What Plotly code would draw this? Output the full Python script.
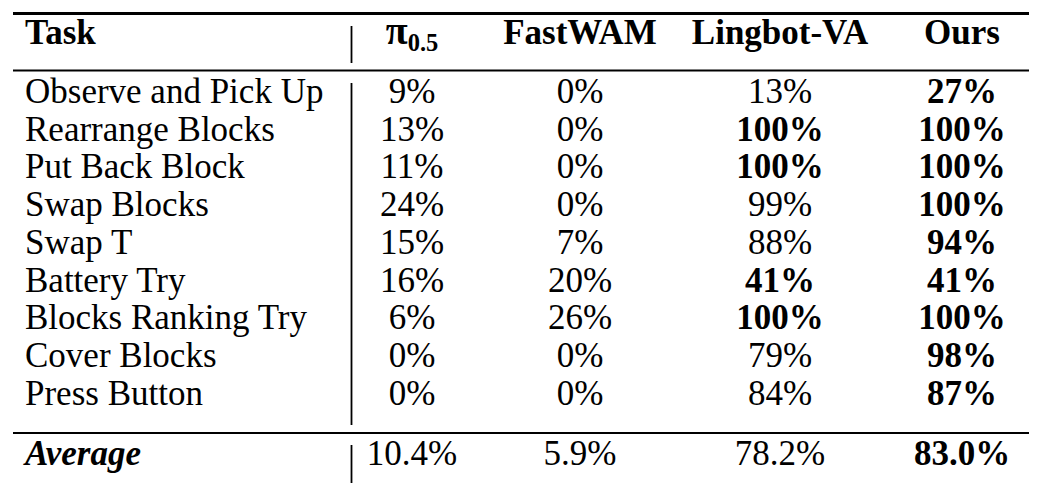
import plotly.graph_objects as go

# ---------------- data ----------------
tasks = ["Observe and Pick Up", "Rearrange Blocks", "Put Back Block", "Swap Blocks",
         "Swap T", "Battery Try", "Blocks Ranking Try", "Cover Blocks", "Press Button"]
method_headers = ["<b><span style='font-size:40px'>π</span><sub>0.5</sub></b>",
                  "<b>FastWAM</b>", "<b>Lingbot-VA</b>", "<b>Ours</b>"]
task_header = "Task"
avg_label = "Average"

pi05 = [9, 13, 11, 24, 15, 16, 6, 0, 0]
fastwam = [0, 0, 0, 0, 7, 20, 26, 0, 0]
lingbot = [13, 100, 100, 99, 88, 41, 100, 79, 84]
ours = [27, 100, 100, 100, 94, 41, 100, 98, 87]
avg_values = [10.4, 5.9, 78.2, 83.0]

# ---------------- layout constants ----------------
W, H = 1037, 487
FS = 35
FONT = "'Liberation Serif', 'Times New Roman', Times, serif"
TASK_X = 17
COL_X = [404, 572, 772, 954]
HEAD_Y = 27
ROW_Y0 = 86
ROW_DY = 37.75
AVG_Y = 448
RULE_X0, RULE_X1 = 5, 1028
VLINE_X = 343.5

series = [pi05, fastwam, lingbot, ours]
n = len(tasks)
row_y = [ROW_Y0 + ROW_DY * i for i in range(n)]

fig = go.Figure()

def text_trace(xs, ys, texts, pos):
    return go.Scatter(x=xs, y=ys, text=texts, mode="text", textposition=pos,
                      textfont=dict(family=FONT, size=FS, color="black"),
                      hoverinfo="skip", showlegend=False, cliponaxis=False)

# Task column
fig.add_trace(text_trace([TASK_X] * (n + 2), [HEAD_Y] + row_y + [AVG_Y],
                         [f"<b>{task_header}</b>"] + tasks + [f"<b><i>{avg_label}</i></b>"],
                         "middle right"))

# Method columns
row_max = [max(s[i] for s in series) for i in range(n)]
avg_max = max(avg_values)
for j, s in enumerate(series):
    texts = [method_headers[j]]
    for i, v in enumerate(s):
        t = f"{v}%"
        texts.append(f"<b>{t}</b>" if v == row_max[i] else t)
    a = f"{avg_values[j]:.1f}%"
    texts.append(f"<b>{a}</b>" if avg_values[j] == avg_max else a)
    fig.add_trace(text_trace([COL_X[j]] * (n + 2), [HEAD_Y] + row_y + [AVG_Y],
                             texts, "middle center"))

# Rules (booktabs style)
for y, w in [(5.5, 3), (62.5, 2), (425, 2), (483, 3.5)]:
    fig.add_shape(type="line", xref="x", yref="y", x0=RULE_X0, x1=RULE_X1, y0=y, y1=y,
                  line=dict(color="black", width=w))
for y0, y1 in [(18, 55), (75, 417), (437, 475)]:
    fig.add_shape(type="line", xref="x", yref="y", x0=VLINE_X, x1=VLINE_X, y0=y0, y1=y1,
                  line=dict(color="black", width=1.8))

fig.update_layout(
    width=W, height=H,
    margin=dict(l=0, r=0, t=0, b=0),
    paper_bgcolor="white", plot_bgcolor="white",
    xaxis=dict(range=[0, W], visible=False, fixedrange=True),
    yaxis=dict(range=[H, 0], visible=False, fixedrange=True),
    showlegend=False,
)

fig.write_html("out.html")
